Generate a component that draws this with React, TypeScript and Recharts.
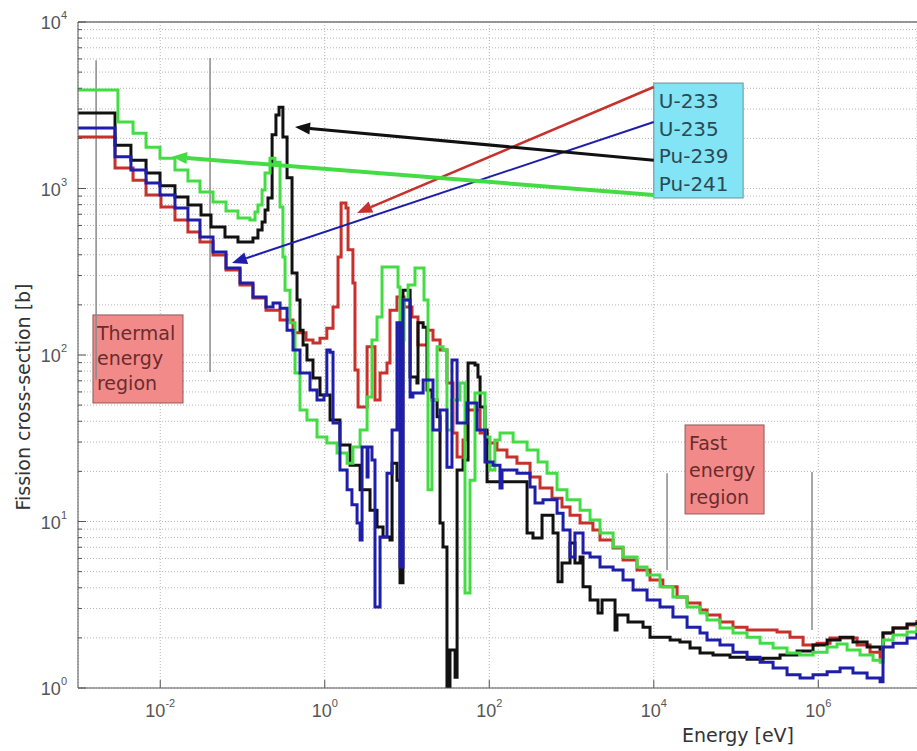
import React from "react";
import {
  LineChart,
  Line,
  XAxis,
  YAxis,
  CartesianGrid,
  ReferenceLine,
  ReferenceArea,
} from "recharts";

type Pt = [number, number];

// fission cross-sections [eV, barn] (multigroup stairs)
const u233: Pt[] = [
  [1.0e-3, 2040], [2.82e-3, 1330], [4.67e-3, 1120], [6.72e-3, 914], [0.0102, 774], [0.0151, 647],
  [0.0217, 548], [0.0304, 478], [0.0438, 399], [0.063, 324], [0.0933, 263], [0.134, 220],
  [0.193, 186], [0.286, 162], [0.411, 136], [0.592, 123], [0.719, 118], [0.875, 126],
  [1.06, 145], [1.26, 194], [1.45, 388], [1.58, 818], [1.81, 764], [1.92, 428], [2.2, 271],
  [2.33, 81.3], [2.54, 48.8], [3.27, 112], [4.08, 53.7], [4.7, 78], [5.71, 89.5], [6.21, 186],
  [7.55, 223], [9.2, 194], [11.5, 169], [13.6, 115], [17.5, 141], [20.7, 123], [25.2, 107],
  [30.6, 67.9], [36.2, 34], [40.6, 24.4], [48, 30.9], [53.6, 46.8], [77.3, 34], [94, 29.6],
  [124, 26.9], [164, 24.4], [217, 22.4], [313, 18.5], [414, 15.9], [579, 13.8], [766, 12.2],
  [959, 10.9], [1270, 9.79], [1820, 8.89], [2220, 7.74], [3200, 6.93], [4230, 5.87],
  [6250, 5.12], [9000, 4.46], [12900, 4.05], [19200, 3.52], [25400, 3.24], [36500, 2.94],
  [44400, 2.74], [63800, 2.49], [91800, 2.32], [136000, 2.23], [315000, 2.17], [453000, 2.02],
  [653000, 1.81], [966000, 1.86], [1.39e6, 2.0], [2.96e6, 1.81], [4.26e6, 1.64], [5.64e6, 1.53],
  [6.12e6, 2.14], [8.11e6, 2.29], [1.2e7, 2.39], [1.58e7, 2.56],
];

const u235: Pt[] = [
  [1.0e-3, 2310], [2.82e-3, 1550], [4.4e-3, 1290], [6.72e-3, 1080], [9.93e-3, 914], [0.0151, 764],
  [0.0217, 647], [0.0304, 512], [0.0438, 416], [0.063, 333], [0.0933, 271], [0.134, 223],
  [0.193, 194], [0.235, 205], [0.286, 191], [0.348, 141], [0.411, 107], [0.5, 78], [0.662, 61.7],
  [0.805, 53.7], [0.979, 57.5], [1.06, 107], [1.16, 104], [1.26, 39.1], [1.53, 20.4], [1.87, 15.5],
  [2.14, 12.6], [2.47, 9.79], [2.69, 7.74], [2.84, 28], [3.27, 18.5], [3.36, 28], [3.75, 23.4],
  [4.08, 3.07], [4.7, 8.07], [5.71, 19.5], [6.58, 35.5], [7.55, 156], [8.22, 5.33], [8.93, 214],
  [10.9, 56], [11.8, 59.2], [15.7, 70.8], [20.7, 35.5], [25.2, 46.8], [30.6, 21.2], [35.2, 93.3],
  [40.6, 39.1], [53.6, 51.5], [71, 35.5], [88.7, 22.8], [111, 21.8], [135, 15.9], [143, 20.4],
  [217, 19.5], [313, 16.1], [360, 12.9], [450, 13.5], [667, 11.2], [789, 8.89], [959, 6.12],
  [1100, 8.53], [1380, 6.47], [1680, 6.12], [2220, 5.33], [3200, 5.12], [4230, 4.46],
  [5600, 3.88], [8280, 3.38], [11900, 3.07], [17100, 2.67], [25400, 2.32], [36500, 2.14],
  [44400, 1.94], [63800, 1.81], [91800, 1.64], [136000, 1.53], [196000, 1.43], [282000, 1.32],
  [417000, 1.2], [600000, 1.15], [863000, 1.2], [1.28e6, 1.25], [1.84e6, 1.32], [2.64e6, 1.23],
  [3.92e6, 1.15], [5.64e6, 1.09], [6.12e6, 1.76], [8.11e6, 1.86], [1.2e7, 2.0], [1.58e7, 2.14],
];

const pu239: Pt[] = [
  [1.0e-3, 2840], [2.82e-3, 1820], [4.4e-3, 1480], [6.72e-3, 1240], [9.93e-3, 1040], [0.0151, 889],
  [0.0217, 796], [0.0313, 693], [0.0414, 587], [0.0612, 512], [0.0881, 478], [0.134, 505],
  [0.154, 564], [0.173, 629], [0.188, 743], [0.204, 877], [0.229, 2100], [0.255, 2760],
  [0.278, 3080], [0.31, 2040], [0.348, 1160], [0.4, 311], [0.46, 214], [0.5, 141], [0.545, 115],
  [0.608, 93.3], [0.719, 72.8], [0.875, 57.5], [1.16, 40.7], [1.53, 28.8], [2.03, 21.8],
  [2.69, 15.5], [3.55, 11.7], [4.32, 9.27], [5.11, 8.07], [6.21, 7.74], [6.58, 22.4], [7.55, 17.7],
  [8.22, 4.28], [8.93, 245], [10.9, 73.8], [13.2, 67.9], [13.6, 156], [15.7, 147], [17.5, 61.7],
  [20.1, 53.7], [23.2, 42.5], [25.2, 9.79], [27.4, 7.03], [30.6, 1.01], [33.3, 1.69], [38.4, 1.16],
  [40.6, 20.4], [48, 23.4], [55.2, 89.5], [67.1, 87.1], [72.9, 73.8], [77.3, 48.8], [88.7, 35.5],
  [94, 17.3], [288, 8.53], [340, 7.96], [438, 10.9], [596, 8.53], [685, 4.34], [766, 5.64],
  [959, 7.43], [1100, 5.64], [1270, 6.12], [1380, 4.05], [1680, 3.38], [2100, 2.82], [2350, 3.38],
  [3380, 2.23], [3570, 2.74], [4860, 2.49], [7400, 2.32], [9000, 2.02], [15800, 1.94],
  [20800, 1.89], [27600, 1.74], [36500, 1.62], [52500, 1.58], [84500, 1.53], [136000, 1.49],
  [213000, 1.51], [343000, 1.58], [552000, 1.67], [863000, 1.81], [1.28e6, 1.94], [1.84e6, 2.02],
  [2.64e6, 1.89], [3.92e6, 1.76], [5.64e6, 1.71], [6.12e6, 2.14], [8.11e6, 2.29], [1.2e7, 2.42],
  [1.58e7, 2.49],
];

const pu241: Pt[] = [
  [1.0e-3, 3910], [3.06e-3, 2510], [4.67e-3, 2150], [6.72e-3, 1770], [9.93e-3, 1520], [0.0151, 1290],
  [0.0217, 1110], [0.0304, 953], [0.0438, 830], [0.063, 733], [0.0881, 665], [0.123, 647],
  [0.142, 723], [0.154, 796], [0.173, 980], [0.188, 1240], [0.216, 1520], [0.248, 1440],
  [0.286, 774], [0.31, 388], [0.329, 245], [0.378, 156], [0.435, 78], [0.5, 46.8], [0.608, 40.7],
  [0.805, 32.2], [1.06, 29.6], [1.41, 25.8], [1.87, 22.4], [2.2, 28], [2.69, 35.5], [3.27, 56],
  [3.75, 123], [4.32, 169], [4.97, 338], [7.78, 256], [8.22, 123], [9.2, 214], [10.3, 263],
  [12.5, 333], [16.1, 214], [18, 15.5], [20.1, 53.7], [23.2, 112], [27.4, 107], [30.6, 35.5],
  [35.2, 53.7], [44.1, 67.9], [50.7, 3.72], [58.3, 17.7], [67.1, 59.2], [88.7, 32.2], [102, 20.4],
  [117, 30.9], [135, 34], [195, 30], [288, 26.9], [392, 22.8], [504, 19.5], [667, 15.5],
  [881, 13.5], [1270, 11.7], [1680, 10.2], [2220, 8.53], [3200, 7.03], [4230, 6.12], [6250, 5.33],
  [8280, 4.78], [11900, 4.05], [17100, 3.52], [25400, 3.07], [36500, 2.82], [44400, 2.56],
  [63800, 2.29], [91800, 2.14], [136000, 2.02], [196000, 1.86], [282000, 1.74], [417000, 1.62],
  [600000, 1.58], [863000, 1.64], [1.28e6, 1.76], [1.69e6, 1.84], [2.24e6, 1.69], [3.22e6, 1.58],
  [4.63e6, 1.47], [5.64e6, 1.43], [6.12e6, 1.94], [8.11e6, 2.08], [1.2e7, 2.17], [1.58e7, 2.39],
];

const xTicks = [1e-2, 1, 1e2, 1e4, 1e6];
const yDecades = [1, 10, 100, 1000];
const yMults = [1, 2, 3, 4, 5, 6, 7, 8, 9];
const yTicks = [...yDecades.flatMap((d) => yMults.map((m) => d * m)), 10000];

const RED = "#c8302b";
const BLUE = "#1e1eaa";
const BLACK = "#111111";
const GREEN = "#44dc44";

const isotopes = ["U-233", "U-235", "Pu-239", "Pu-241"];
const thermalLines = ["Thermal", "energy", "region"];
const fastLines = ["Fast", "energy", "region"];

// annotation geometry, in data units
const arrows = [
  { color: RED, width: 2.5, from: { x: 1.0e4, y: 4070 }, to: { x: 2.47, y: 713 } },
  { color: BLUE, width: 2, from: { x: 1.0e4, y: 2510 }, to: { x: 0.0745, y: 357 } },
  { color: BLACK, width: 3, from: { x: 1.0e4, y: 1480 }, to: { x: 0.435, y: 2340 } },
  { color: GREEN, width: 4, from: { x: 1.0e4, y: 914 }, to: { x: 0.0139, y: 1550 } },
];
const regionMarks = [
  { e: 1.66e-3, top: 5900, bottom: 71 },
  { e: 0.0403, top: 6080, bottom: 79 },
  { e: 14500, top: 19.5, bottom: 5.1 },
  { e: 839000, top: 19.8, bottom: 2.23 },
];
const thermalBox = { x1: 1.52e-3, x2: 0.0189, y1: 51.5, y2: 174 };
const fastBox = { x1: 24000, x2: 219000, y1: 11.1, y2: 38 };
const legendBox = { x1: 1.0e4, x2: 1.22e5, y1: 877, y2: 4300 };

const toRows = (pts: Pt[]) => pts.map(([e, s]) => ({ e, s }));

const isDecade = (v: number) => Math.abs(Math.log10(v) - Math.round(Math.log10(v))) < 1e-9;

function XTick(props: any) {
  const { x, y, payload } = props;
  const exp = Math.round(Math.log10(payload.value));
  return (
    <g>
      <line x1={x} x2={x} y1={y} y2={y - 8} stroke="#555" />
      <text x={x} y={y + 29} textAnchor="middle" fontFamily="Liberation Sans, Arial, sans-serif" fontSize={18} fill="#555">
        10<tspan dy={-10} fontSize={11}>{exp}</tspan>
      </text>
    </g>
  );
}

function YTick(props: any) {
  const { x, y, payload } = props;
  const v = payload.value;
  if (!isDecade(v)) {
    return <line x1={x} x2={x + 4} y1={y} y2={y} stroke="#555" />;
  }
  const exp = Math.round(Math.log10(v));
  return (
    <g>
      <line x1={x} x2={x + 8} y1={y} y2={y} stroke="#555" />
      <text x={x - 11} y={y + 7} textAnchor="end" fontFamily="Liberation Sans, Arial, sans-serif" fontSize={18} fill="#555">
        10<tspan dy={-10} fontSize={11}>{exp}</tspan>
      </text>
    </g>
  );
}

const arrowShape = (color: string, width: number) => (p: any) => {
  const { x1, y1, x2, y2 } = p;
  const a = Math.atan2(y2 - y1, x2 - x1);
  const len = 15;
  const half = 6;
  const bx = x2 - len * Math.cos(a);
  const by = y2 - len * Math.sin(a);
  const pts = [
    [x2, y2],
    [bx + half * Math.sin(a), by - half * Math.cos(a)],
    [bx - half * Math.sin(a), by + half * Math.cos(a)],
  ]
    .map((q) => q.join(","))
    .join(" ");
  return (
    <g>
      <line x1={x1} y1={y1} x2={bx} y2={by} stroke={color} strokeWidth={width} />
      <polygon points={pts} fill={color} />
    </g>
  );
};

const textBox = (lines: string[], opts: { fill: string; stroke: string; color: string; size: number; first: number; step: number; pad: number }) =>
  (p: any) => {
    const { x, y, width, height } = p;
    return (
      <g>
        <rect x={x} y={y} width={width} height={height} fill={opts.fill} stroke={opts.stroke} strokeWidth={1} />
        {lines.map((t, i) => (
          <text key={t + i} x={x + opts.pad} y={y + opts.first + i * opts.step} fontFamily="DejaVu Sans, Verdana, sans-serif" fontSize={opts.size} fill={opts.color}>
            {t}
          </text>
        ))}
      </g>
    );
  };

export default function App() {
  return (
    <div style={{ position: "absolute", left: 0, top: 0, background: "#fff" }}>
      <LineChart width={917} height={751} margin={{ top: 22, right: 0, bottom: 0, left: 0 }}>
        <CartesianGrid stroke="#b4b4b4" strokeDasharray="1 2" />
        <XAxis
          dataKey="e"
          type="number"
          scale="log"
          domain={[0.001, 15850000]}
          allowDataOverflow
          ticks={xTicks}
          height={63}
          tickSize={0}
          tickMargin={0}
          tick={<XTick />}
          axisLine={{ stroke: "#555" }}
          label={{
            content: (p: any) => (
              <text x={p.viewBox.x + 660} y={p.viewBox.y + 54} textAnchor="middle" fontFamily="DejaVu Sans, Verdana, sans-serif" fontSize={19} fill="#333">
                Energy [eV]
              </text>
            ),
          }}
        />
        <YAxis
          type="number"
          scale="log"
          domain={[1, 10000]}
          allowDataOverflow
          ticks={yTicks}
          interval={0}
          width={78}
          tickSize={0}
          tickMargin={0}
          tick={<YTick />}
          axisLine={{ stroke: "#555" }}
          label={{
            content: (p: any) => {
              const cx = p.viewBox.x + 30;
              const cy = p.viewBox.y + 375;
              return (
                <text x={cx} y={cy} transform={`rotate(-90 ${cx} ${cy})`} textAnchor="middle" fontFamily="DejaVu Sans, Verdana, sans-serif" fontSize={19} fill="#333">
                  Fission cross-section [b]
                </text>
              );
            },
          }}
        />
        <ReferenceLine y={10000} stroke="#777" strokeWidth={1.5} />
        {regionMarks.map((m, i) => (
          <ReferenceLine
            key={"m" + i}
            segment={[{ x: m.e, y: m.top }, { x: m.e, y: m.bottom }]}
            stroke="#8a8a8a"
            strokeWidth={1.5}
          />
        ))}
        <Line data={toRows(u233)} dataKey="s" type="stepAfter" stroke={RED} strokeWidth={3} dot={false} isAnimationActive={false} />
        <Line data={toRows(pu239)} dataKey="s" type="stepAfter" stroke={BLACK} strokeWidth={3} dot={false} isAnimationActive={false} />
        <Line data={toRows(pu241)} dataKey="s" type="stepAfter" stroke={GREEN} strokeWidth={3} dot={false} isAnimationActive={false} />
        <Line data={toRows(u235)} dataKey="s" type="stepAfter" stroke={BLUE} strokeWidth={3} dot={false} isAnimationActive={false} />
        <ReferenceArea
          {...thermalBox}
          shape={textBox(thermalLines, { fill: "#f28a8a", stroke: "#8c5a5a", color: "#6a2c2c", size: 19, first: 25, step: 25, pad: 4 })}
        />
        <ReferenceArea
          {...fastBox}
          shape={textBox(fastLines, { fill: "#f28a8a", stroke: "#8c5a5a", color: "#6a2c2c", size: 19, first: 25, step: 27, pad: 4 })}
        />
        <ReferenceArea
          {...legendBox}
          shape={textBox(isotopes, { fill: "#82e4f4", stroke: "#6f8f95", color: "#2a4a55", size: 20, first: 25, step: 27.5, pad: 5 })}
        />
        {arrows.map((a, i) => (
          <ReferenceLine key={"a" + i} segment={[a.from, a.to]} shape={arrowShape(a.color, a.width)} />
        ))}
      </LineChart>
    </div>
  );
}
